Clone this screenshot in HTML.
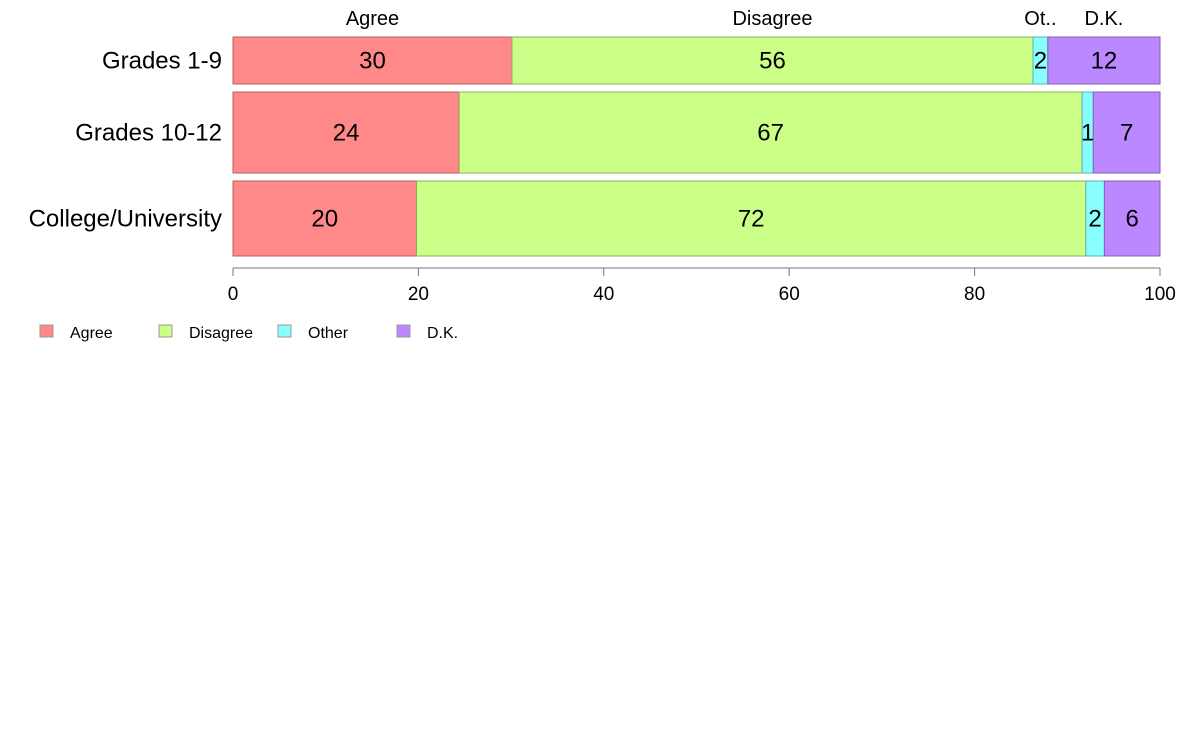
<!DOCTYPE html>
<html><head><meta charset="utf-8"><style>
body{margin:0;background:#fff;width:1188px;height:736px;overflow:hidden;font-family:"Liberation Sans",Arial,sans-serif}
</style></head><body>
<svg id="chart" width="1188" height="736" xmlns="http://www.w3.org/2000/svg" font-family="Liberation Sans, Arial, sans-serif"></svg>
<script>
const categories = ["Grades 1-9","Grades 10-12","College/University"];
const seriesNames = ["Agree","Disagree","Other","D.K."];
const headerLabels = ["Agree","Disagree","Ot..","D.K."];
const agree = [30.1, 24.4, 19.8];
const disagree = [56.2, 67.2, 72.2];
const other = [1.6, 1.2, 2.0];
const dk = [12.1, 7.2, 6.0];
const ticks = [0,20,40,60,80,100];
const colors = ["#ff8888","#ccff88","#88ffff","#bb88ff"];
const strokes = ["#b06060","#8fb060","#60b0b0","#8060b0"];
const rowTop = [37, 92, 181], rowBot = [84, 173, 256];
const svg = document.getElementById('chart');
const NS = "http://www.w3.org/2000/svg";
const x = v => 233 + v * (1160 - 233) / 100;
function mk(tag, attrs, txt){const e=document.createElementNS(NS,tag);for(const k in attrs)e.setAttribute(k,attrs[k]);if(txt!==undefined)e.textContent=txt;svg.appendChild(e);return e;}
const series=[agree,disagree,other,dk];
categories.forEach((c,i)=>{
  const l=mk('text',{x:222,y:(rowTop[i]+rowBot[i])/2+8,'text-anchor':'end','font-size':24,fill:'#000'},c);
  
  
  let cum=0;
  series.forEach((s,j)=>{
    const x0=x(cum),x1=x(cum+s[i]);
    const r=mk('rect',{x:x0,y:rowTop[i],width:x1-x0,height:rowBot[i]-rowTop[i],fill:colors[j],stroke:strokes[j],'stroke-width':1});
    
    
    const t=mk('text',{x:(x0+x1)/2,y:(rowTop[i]+rowBot[i])/2+8,'text-anchor':'middle','font-size':24,fill:'#000'},Math.round(s[i]));
    
    
    if(i===0){
      const h=mk('text',{x:(x0+x1)/2,y:25,'text-anchor':'middle','font-size':20,fill:'#000'},headerLabels[j]);
      
      
    }
    cum+=s[i];
  });
});
const ax=mk('line',{x1:x(0),x2:x(100),y1:268,y2:268,stroke:'#777','stroke-width':1});


ticks.forEach(t=>{
  const tl=mk('line',{x1:x(t),x2:x(t),y1:268,y2:276,stroke:'#777','stroke-width':1});
  
  
  const tt=mk('text',{x:x(t),y:300,'text-anchor':'middle','font-size':19,fill:'#000'},t);
  
  
});
const lx=[40,159,278,397];
seriesNames.forEach((n,j)=>{
  const r=mk('rect',{x:lx[j],y:325,width:13,height:12,fill:colors[j],stroke:'#999','stroke-width':1});
  
  
  const t=mk('text',{x:lx[j]+30,y:338,'font-size':16,fill:'#000'},n);
  
  
});
</script>
</body></html>
